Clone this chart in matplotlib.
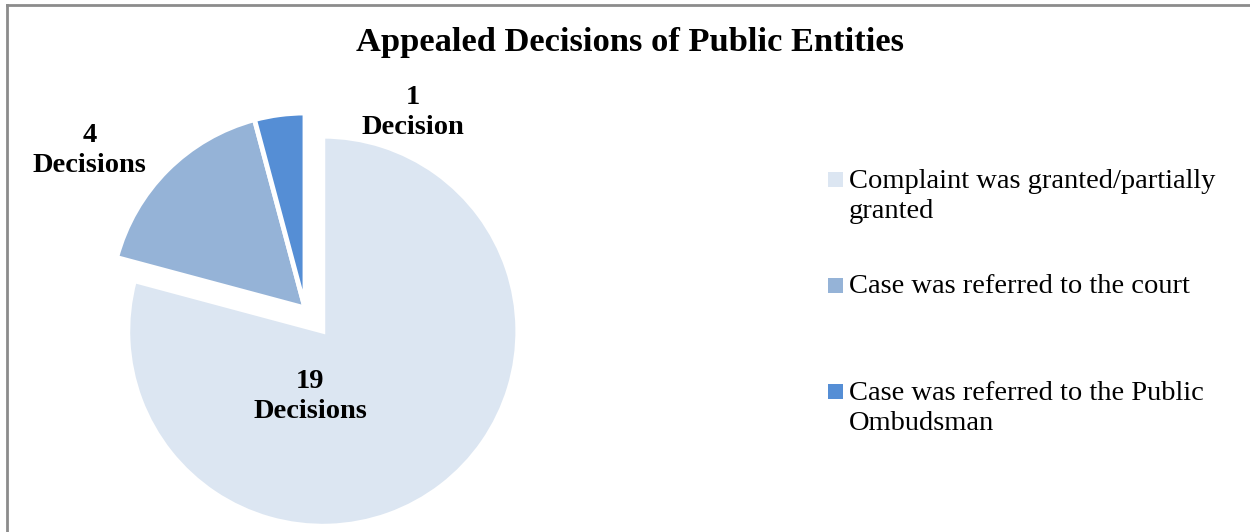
import matplotlib
matplotlib.use("Agg")
import matplotlib.pyplot as plt
from matplotlib.patches import Rectangle
from matplotlib.lines import Line2D

# Outcome of appealed decisions
categories = [
    "Complaint was granted/partially\ngranted",
    "Case was referred to the court",
    "Case was referred to the Public\nOmbudsman",
]
decisions = [19, 4, 1]
colors = ["#DCE6F2", "#95B3D7", "#558ED5"]
title = "Appealed Decisions of Public Entities"

W, H = 1250, 532
fig = plt.figure(figsize=(W / 100, H / 100), dpi=100)
fig.patch.set_facecolor("white")

SERIF = ["Liberation Serif", "DejaVu Serif"]

# pie axes: 440 px square, pie radius 195 px
R = 195.0
cx, cy = 305.0, 224.0
half = 220.0
ax = fig.add_axes([(cx - half) / W, (cy - half) / H, 2 * half / W, 2 * half / H])

wedges, _ = ax.pie(
    decisions,
    colors=colors,
    startangle=90,
    counterclock=False,
    explode=[0.15, 0, 0],
    radius=1.0,
    wedgeprops=dict(edgecolor="white", linewidth=3.5),
)
for w in wedges:
    w.set_clip_on(False)
ax.set_xlim(-half / R, half / R)
ax.set_ylim(-half / R, half / R)
ax.set_aspect("equal")
ax.axis("off")

# data labels (y = baseline of the second line)
label_pos = [(0.026, -0.564), (-1.103, 0.697), (0.554, 0.892)]
for v, (lx, ly) in zip(decisions, label_pos):
    word = "Decision" if v == 1 else "Decisions"
    ax.text(lx, ly, f"{v}\n{word}", ha="center", va="baseline",
            fontsize=20.5, fontweight="bold", family=SERIF,
            linespacing=1.27, clip_on=False)

# title
fig.text(630 / W, 1 - 51 / H, title, ha="center", va="baseline",
         fontsize=24.8, fontweight="bold", family=SERIF)

# legend (first-line baselines in px from top)
base_y = [187, 293, 399]
line_h = 31
for lab, col, by in zip(categories, colors, base_y):
    fig.patches.append(Rectangle((828 / W, 1 - by / H), 15 / W, 15 / H,
                                 transform=fig.transFigure, facecolor=col,
                                 edgecolor="none"))
    n_extra = lab.count("\n")
    fig.text(849 / W, 1 - (by + n_extra * line_h) / H, lab, ha="left",
             va="baseline", fontsize=20.5, family=SERIF, linespacing=1.27)

# chart area border (top and left)
border = "#8C8C8C"
fig.lines.append(Line2D([7 / W, 1], [1 - 5 / H, 1 - 5 / H], transform=fig.transFigure,
                        color=border, linewidth=2))
fig.lines.append(Line2D([7 / W, 7 / W], [0, 1 - 5 / H], transform=fig.transFigure,
                        color=border, linewidth=2))

fig.savefig("out.png", dpi=100, facecolor="white")
